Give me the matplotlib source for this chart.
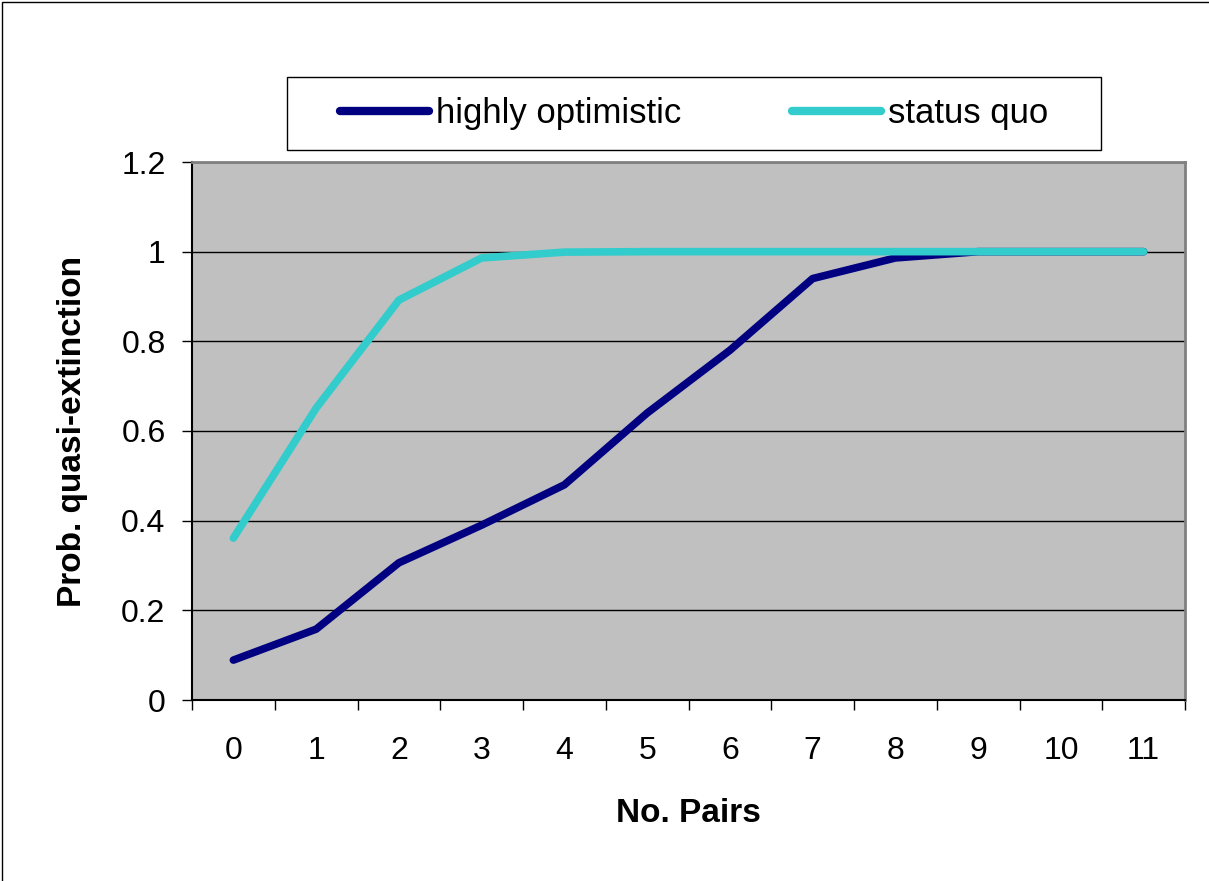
import numpy as np
import matplotlib
matplotlib.use("Agg")
import matplotlib.pyplot as plt
from matplotlib.patches import Rectangle

# data
pairs = [0, 1, 2, 3, 4, 5, 6, 7, 8, 9, 10, 11]
highly_optimistic = [0.089, 0.158, 0.306, 0.39, 0.48, 0.64, 0.78, 0.94, 0.986, 1.0, 1.0, 1.0]
status_quo = [0.361, 0.651, 0.892, 0.986, 0.999, 1.0, 1.0, 1.0, 1.0, 1.0, 1.0, 1.0]
series_names = ["highly optimistic", "status quo"]
series_colors = ["#000080", "#33CCCC"]
y_ticks = [0, 0.2, 0.4, 0.6, 0.8, 1.0, 1.2]
y_tick_labels = ["0", "0.2", "0.4", "0.6", "0.8", "1", "1.2"]

plt.rcParams['font.family'] = ['Liberation Sans', 'DejaVu Sans']

W, H = 1209, 881
fig = plt.figure(figsize=(W / 100, H / 100), dpi=100)

# plot area in pixels
left, right, top, bottom = 192, 1185, 162, 700
ax = fig.add_axes([left / W, 1 - bottom / H, (right - left) / W, (bottom - top) / H])
ax.set_facecolor("#C0C0C0")

lines = []
for vals, name, col in zip([highly_optimistic, status_quo], series_names, series_colors):
    ln, = ax.plot(pairs, vals, color=col, linewidth=5.5, solid_capstyle='round',
                  solid_joinstyle='round', label=name, zorder=3)
    lines.append(ln)

ax.set_xlim(-0.5, len(pairs) - 0.5)
ax.set_ylim(0, 1.2)

# gridlines
ax.set_yticks(y_ticks)
ax.set_yticklabels(y_tick_labels, fontsize=23)
ax.yaxis.grid(True, color='black', linewidth=1)
ax.set_axisbelow(True)

# x ticks at category boundaries, labels at centers
ax.set_xticks(np.arange(-0.5, len(pairs), 1.0))
ax.set_xticklabels([])
ax.set_xticks(pairs, minor=True)
ax.set_xticklabels([str(p) for p in pairs], minor=True, fontsize=23)
ax.tick_params(axis='x', which='major', length=7, width=1, direction='out')
ax.tick_params(axis='x', which='minor', length=0, pad=26)
ax.tick_params(axis='y', length=7, width=1, direction='out', pad=12)

for s in ['left', 'bottom']:
    ax.spines[s].set_color('black')
    ax.spines[s].set_linewidth(1.5)
for s in ['top', 'right']:
    ax.spines[s].set_color('#808080')
    ax.spines[s].set_linewidth(2)

ax.set_xlabel("No. Pairs", fontsize=24, fontweight='bold')
ax.xaxis.set_label_coords(0.5, -(798 - bottom) / (bottom - top))
ax.set_ylabel("Prob. quasi-extinction", fontsize=24, fontweight='bold')
ax.yaxis.set_label_coords(-(left - 88) / (right - left), 0.5)

# legend box
lx0, ly0, lx1, ly1 = 287, 77, 1101, 150
fig.patches.append(Rectangle((lx0 / W, 1 - ly1 / H), (lx1 - lx0) / W, (ly1 - ly0) / H,
                             transform=fig.transFigure, facecolor='white',
                             edgecolor='black', linewidth=1))
leg = fig.legend(handles=lines, loc='center', ncol=2, frameon=False, fontsize=25,
                 bbox_to_anchor=((lx0 + lx1) / 2 / W, 1 - (ly0 + ly1) / 2 / H),
                 handlelength=2.55, handletextpad=0.2, columnspacing=3.2)
for lh in leg.get_lines():
    lh.set_linewidth(6)

# outer chart border
fig.patches.append(Rectangle((2 / W, -0.01), 1.1, 1 - 2 / H + 0.01, transform=fig.transFigure,
                             facecolor='none', edgecolor='black', linewidth=1))

fig.savefig("out.png", dpi=100)
